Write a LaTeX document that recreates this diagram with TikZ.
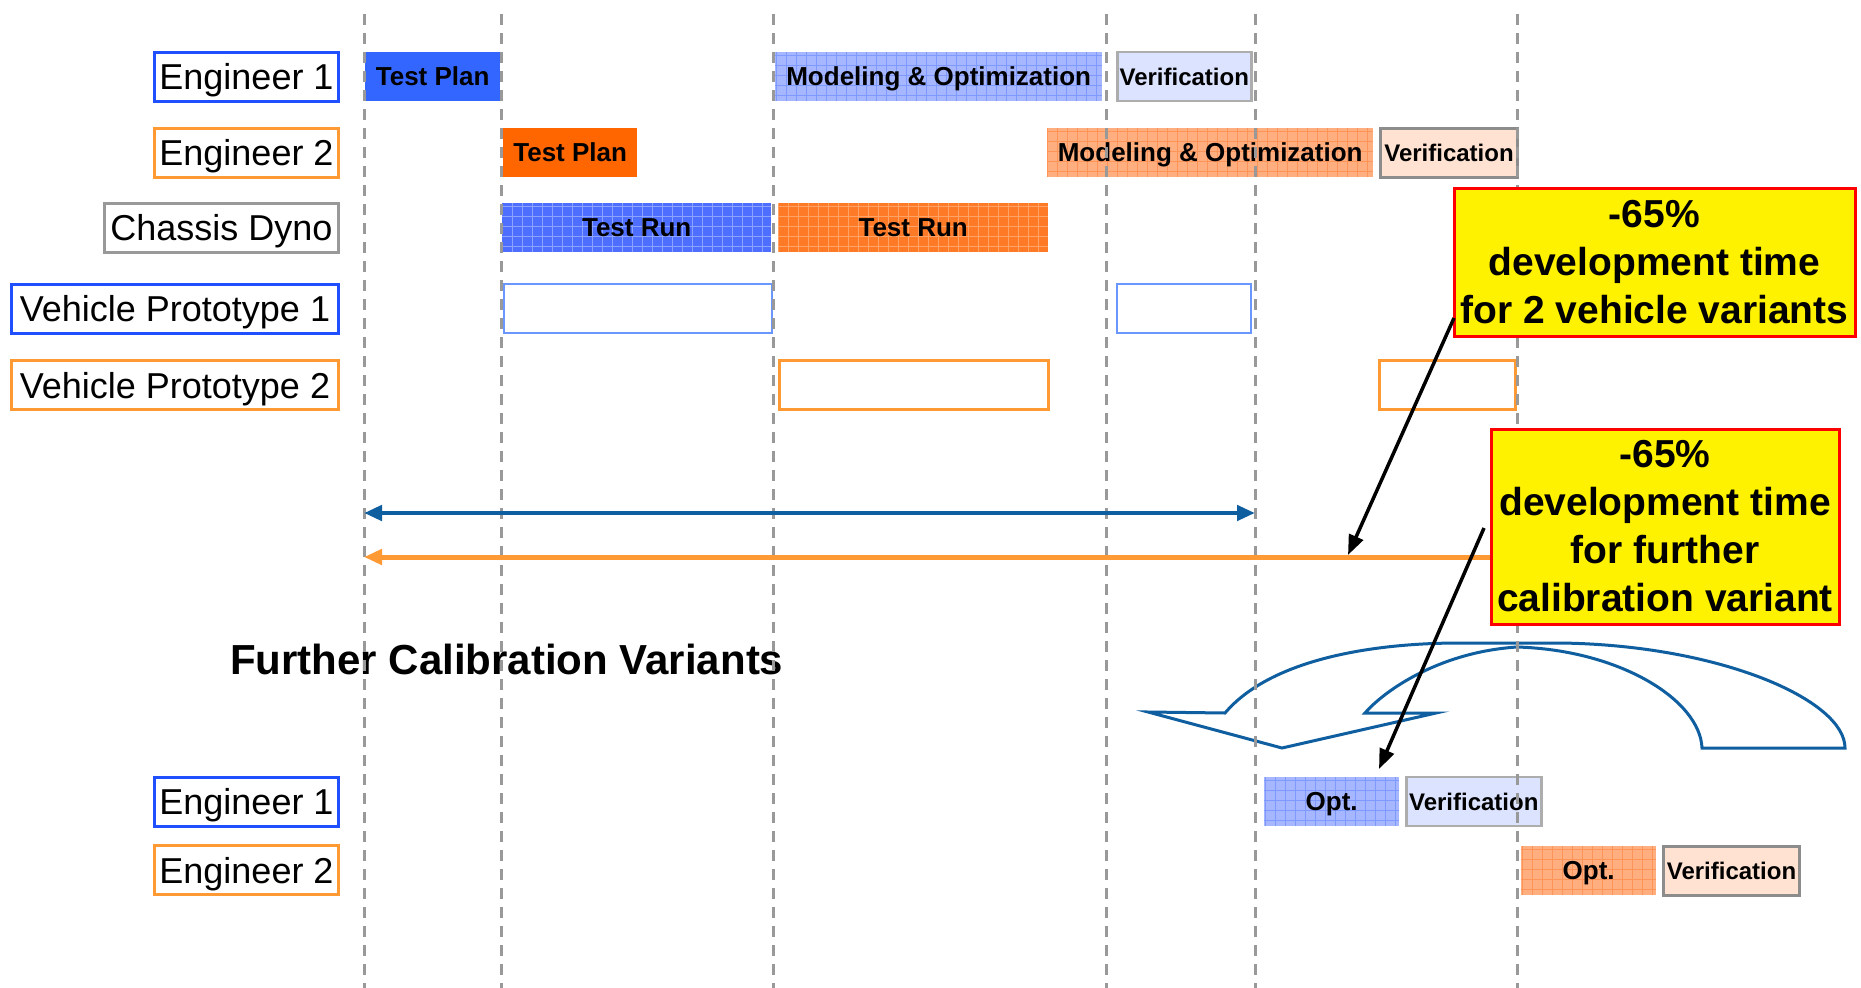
\documentclass[tikz,border=0pt]{standalone}
\usepackage{fontspec}
\setmainfont{Liberation Sans}
\usetikzlibrary{arrows.meta}
\definecolor{lblue}{HTML}{1F4FFF}
\definecolor{lorange}{HTML}{FF9933}
\definecolor{lgray}{HTML}{999999}
\definecolor{dgray}{HTML}{8C8C8C}
\definecolor{solidblue}{HTML}{3366FF}
\definecolor{solidorange}{HTML}{FF6600}
\definecolor{trblue}{HTML}{4D6EFF}
\definecolor{trbluel}{HTML}{8CA3FF}
\definecolor{moblue}{HTML}{A6B6FF}
\definecolor{mobluel}{HTML}{7F9AFF}
\definecolor{veblue}{HTML}{DCE3FF}
\definecolor{trorange}{HTML}{FF7A26}
\definecolor{trorangel}{HTML}{FFA466}
\definecolor{moorange}{HTML}{FFAE80}
\definecolor{moorangel}{HTML}{FF9458}
\definecolor{veorange}{HTML}{FFE2D1}
\definecolor{vpblue}{HTML}{6A96FF}
\definecolor{arrblue}{HTML}{0F5FA0}
\tikzset{
  lab/.style={draw, line width=3pt, inner sep=0pt, minimum height=49pt, anchor=east,
    text height=26pt, text depth=0pt, font=\fontsize{36}{36}\selectfont},
  bar/.style={inner sep=0pt, minimum height=49pt, anchor=west,
    text height=18.6pt, text depth=0pt, font=\bfseries\fontsize{26}{26}\selectfont},
  verif/.style={bar, font=\bfseries\fontsize{24}{24}\selectfont, text height=17.2pt},
  hatch/.style={path picture={\draw[#1, line width=0.8pt]
     (path picture bounding box.south west) grid[step=10pt] (path picture bounding box.north east);}},
  vpbox/.style={inner sep=0pt, minimum height=49pt, anchor=west},
  ybox/.style={draw=red, line width=3pt, fill=yellow, align=center, inner sep=0pt,
    font=\bfseries\fontsize{39}{48}\selectfont},
  vline/.style={draw=lgray, line width=3pt, dash pattern=on 11pt off 8pt},
  pointer/.style={draw=black, line width=3.5pt, -{Triangle[length=20pt,width=15pt]}},
}
\begin{document}
\begin{tikzpicture}[x=1pt,y=-1pt]
\useasboundingbox[fill=white] (0,0) rectangle (1861,988);

% row labels
\node[lab, draw=lblue, minimum width=184pt] (e1) at (340,76.5) {Engineer 1};
\node[lab, draw=lorange, minimum width=184pt] (e2) at (340,152.5) {Engineer 2};
\node[lab, draw=lgray, minimum width=234pt] (cd) at (340,227.5) {Chassis Dyno};
\node[lab, draw=lblue, minimum width=327pt] (vp1) at (340,308.5) {Vehicle Prototype 1};
\node[lab, draw=lorange, minimum width=327pt] (vp2) at (340,385) {Vehicle Prototype 2};
\node[lab, draw=lblue, minimum width=184pt] (be1) at (340,801.5) {Engineer 1};
\node[lab, draw=lorange, minimum width=184pt] (be2) at (340,870) {Engineer 2};

% Engineer 1 row
\node[bar, fill=solidblue, minimum width=135pt] (tp1) at (365,76.5) {Test Plan};
\node[bar, fill=moblue, hatch=mobluel, minimum width=327pt] (mo1) at (775,76.5) {Modeling \& Optimization};
\node[verif, fill=veblue, draw=lgray!80, line width=2.5pt, minimum width=134pt] (ve1) at (1116,76.5) {Verification};
% Engineer 2 row
\node[bar, fill=solidorange, minimum width=134pt] (tp2) at (503,152.5) {Test Plan};
\node[bar, fill=moorange, hatch=moorangel, minimum width=326pt] (mo2) at (1047,152.5) {Modeling \& Optimization};
\node[verif, fill=veorange, draw=dgray, line width=3pt, minimum width=137pt] (ve2) at (1379,152.5) {Verification};
% Chassis dyno row
\node[bar, fill=trblue, hatch=trbluel, minimum width=269pt] (tr1) at (502,227.5) {Test Run};
\node[bar, fill=trorange, hatch=trorangel, minimum width=270pt] (tr2) at (778,227.5) {Test Run};
% Vehicle prototypes
\node[vpbox, draw=vpblue, line width=2pt, minimum width=268pt] (p11) at (503,308.5) {};
\node[vpbox, draw=vpblue, line width=2pt, minimum width=134pt] (p12) at (1116,308.5) {};
\node[vpbox, draw=lorange, line width=3pt, minimum width=269pt] (p21) at (778,385) {};
\node[vpbox, draw=lorange, line width=3pt, minimum width=136pt] (p22) at (1378,385) {};

% further calibration variants
\node[anchor=base west, inner sep=0pt, font=\bfseries\fontsize{42}{42}\selectfont] (fcv) at (230,674) {Further Calibration Variants};
\node[bar, fill=moblue, hatch=mobluel, minimum width=135pt] (op1) at (1264,801.5) {Opt.};
\node[verif, fill=veblue, draw=lgray!80, line width=2.5pt, minimum width=135pt] (ve3) at (1405,801.5) {Verification};
\node[bar, fill=moorange, hatch=moorangel, minimum width=135pt] (op2) at (1521,870.5) {Opt.};
\node[verif, fill=veorange, draw=dgray, line width=3pt, minimum width=136pt] (ve4) at (1662,870.5) {Verification};

% curved (U-turn) block arrow
\draw[arrblue, line width=3pt, line join=miter]
  (1225,713) .. controls (1270,660) and (1370,643) .. (1460,643)
  -- (1560,643) .. controls (1720,645) and (1845,700) .. (1845,748)
  -- (1702,748) .. controls (1700,700) and (1620,650) .. (1517,647)
  .. controls (1440,652) and (1385,690) .. (1365,713)
  -- (1436,713) -- (1282,748) -- (1148,712) -- cycle;

% dashed time markers
\foreach \xx in {364,501,773,1106,1255,1517}{
  \draw[vline] (\xx,14) -- (\xx,988);
}

% duration arrows
\coordinate (bl) at (364,513);
\coordinate (br) at (1255,513);
\draw[arrblue, line width=4.5pt, {Triangle[length=18pt,width=15pt]}-{Triangle[length=18pt,width=15pt]}] (bl) -- (br);

% yellow callouts
\node[ybox, minimum width=401pt, minimum height=148pt] (y1) at (1654.5,262) {-65\%\\development time\\for 2 vehicle variants};
\node[ybox, minimum width=348pt, minimum height=195pt] (y2) at (1665,526.5) {-65\%\\development time\\for further\\calibration variant};

\coordinate (ol) at (364,557);
\draw[lorange, line width=5pt, {Triangle[length=18pt,width=15pt]}-] (ol) -- (y2.west |- ol);

% pointers
\coordinate (s1) at (1454,318);
\coordinate (t1) at (1348,555);
\coordinate (s2) at (1484,528);
\coordinate (t2) at (1379,769);
\draw[pointer] (s1) -- (t1);
\draw[pointer] (s2) -- (t2);
\end{tikzpicture}
\end{document}
